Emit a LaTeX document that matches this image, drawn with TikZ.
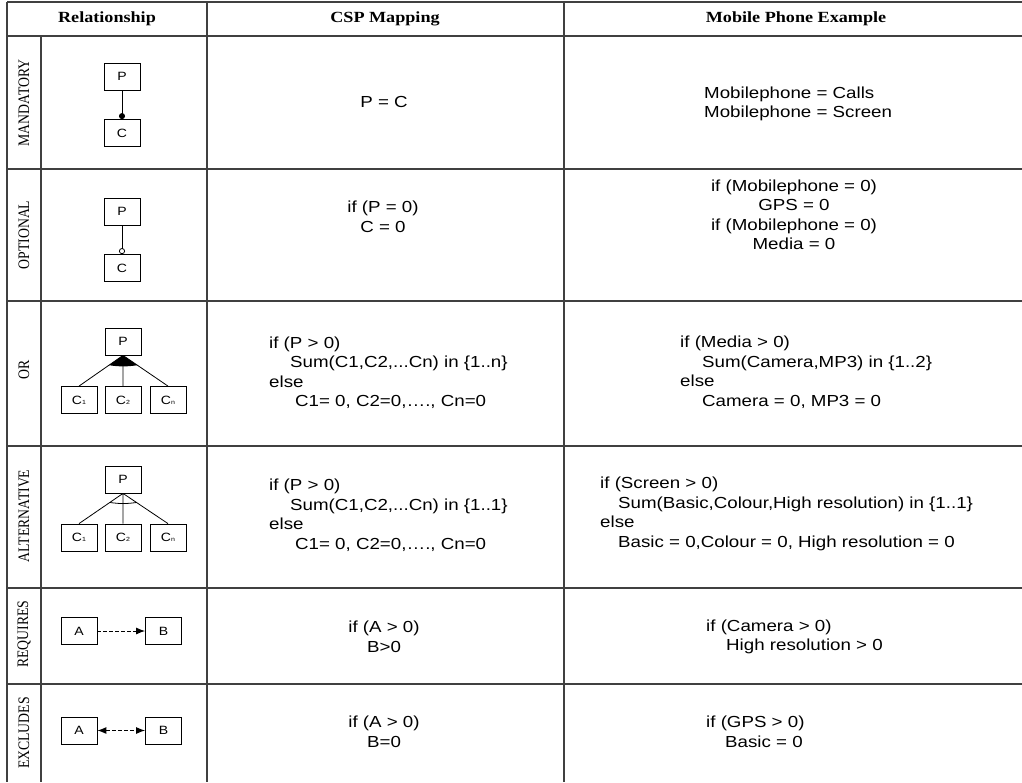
\documentclass[tikz,border=0pt]{standalone}
\usepackage{fontspec}
\setmainfont{Liberation Sans}[FakeStretch=1.17]
\newfontfamily\headfont{Liberation Serif}[FakeStretch=1.17]
\newfontfamily\sidefont{Liberation Serif}[FakeStretch=0.86]
\usetikzlibrary{arrows.meta,calc}
\newcommand{\csub}[1]{{\fontsize{6}{6}\selectfont #1}}

\begin{document}
\begin{tikzpicture}[x=1pt,y=-1pt,
  grid/.style={line width=1.1pt,black!75},
  head/.style={font=\headfont\bfseries\fontsize{15.5}{18}\selectfont},
  side/.style={rotate=90,font=\sidefont\fontsize{16}{18}\selectfont},
  txt/.style={font=\fontsize{16}{19.5}\selectfont,inner sep=0pt},
  feat/.style={draw,line width=0.8pt,minimum width=36pt,minimum height=27pt,inner sep=0pt,font=\fontsize{12}{14}\selectfont},
  link/.style={line width=0.8pt}]
\useasboundingbox (0,0) rectangle (1022,782);
% table
\draw[grid](7,2)--(1022,2)(7,36)--(1022,36);
\foreach \y in {169,301,446,588,684} \draw[grid](7,\y)--(1022,\y);
\draw[grid](7,2)--(7,782)(41,36)--(41,782)(207,2)--(207,782)(564,2)--(564,782);
\node (hrel) at (107,19) [head]{Relationship};
\node (hcsp) at (385,19) [head]{CSP Mapping};
\node (hmob) at (796,19) [head]{Mobile Phone Example};
\node (lman) at (24,103) [side]{MANDATORY};
\node (lopt) at (24,235) [side]{OPTIONAL};
\node (lor) at (24,370) [side]{OR};
\node (lalt) at (24,516) [side]{ALTERNATIVE};
\node (lreq) at (24,634) [side]{REQUIRES};
\node (lexc) at (24,733) [side]{EXCLUDES};
% mandatory
\node (mp) at (122,76.5) [feat]{P};
\node (mc) at (122,133) [feat]{C};
\draw[link,-{Circle[length=6pt]}](mp)--(mc);
\node (mcsp) at (384,101.5) [txt]{P = C};
\node (mmob) at (704,104) [txt,anchor=west,align=left]{Mobilephone = Calls\\Mobilephone = Screen};
% optional
\node (op) at (122,211.5) [feat]{P};
\node (oc) at (122,268) [feat]{C};
\draw[link,-{Circle[open,length=6pt]}](op)--(oc);
\node (ocsp) at (383,217) [txt,align=center]{if (P = 0)\\C = 0};
\node (omob) at (794,215) [txt,align=center]{if (Mobilephone = 0)\\GPS = 0\\if (Mobilephone = 0)\\Media = 0};
% or
\node (rp) at (123,341.5) [feat]{P};
\node (rc1) at (79,400) [feat]{C\csub{1}};
\node (rc2) at (123,400) [feat]{C\csub{2}};
\node (rcn) at (168,400) [feat]{C\csub{n}};
\draw[link](rp.south)--(rc1.north)(rp.south)--(rc2.north)(rp.south)--(rcn.north);
\coordinate (rl) at ($(rp.south)!0.32!(rc1.north)$);
\coordinate (rr) at ($(rp.south)!0.32!(rcn.north)$);
\fill (rp.south)--(rl) to[bend right=8] (rr)--cycle;
\node (rcsp) at (269,372.5) [txt,anchor=west,align=left]{if (P > 0)\\\hspace*{21pt}Sum(C1,C2,...Cn) in \{1..n\}\\else\\\hspace*{26pt}C1= 0, C2=0,…., Cn=0};
\node (rmob) at (680,372) [txt,anchor=west,align=left]{if (Media > 0)\\\hspace*{22pt}Sum(Camera,MP3) in \{1..2\}\\else\\\hspace*{22pt}Camera = 0, MP3 = 0};
% alternative
\node (ap) at (123,479.5) [feat]{P};
\node (ac1) at (79,537.5) [feat]{C\csub{1}};
\node (ac2) at (123,537.5) [feat]{C\csub{2}};
\node (acn) at (168,537.5) [feat]{C\csub{n}};
\draw[link](ap.south)--(ac1.north)(ap.south)--(ac2.north)(ap.south)--(acn.north);
\coordinate (al) at ($(ap.south)!0.3!(ac1.north)$);
\coordinate (ar) at ($(ap.south)!0.3!(acn.north)$);
\draw[link](al) to[bend right=8] (ar);
\node (acsp) at (269,515) [txt,anchor=west,align=left]{if (P > 0)\\\hspace*{21pt}Sum(C1,C2,...Cn) in \{1..1\}\\else\\\hspace*{26pt}C1= 0, C2=0,…., Cn=0};
\node (amob) at (600,514) [txt,anchor=west,align=left]{if (Screen > 0)\\\hspace*{18pt}Sum(Basic,Colour,High resolution) in \{1..1\}\\else\\\hspace*{18pt}Basic = 0,Colour = 0, High resolution = 0};
% requires
\node (qa) at (79,631) [feat]{A};
\node (qb) at (163.5,631) [feat]{B};
\draw[link,line width=1pt,dash pattern=on 4pt off 2pt,-{Latex[length=9pt,width=7pt]}](qa)--(qb);
\node (qcsp) at (384,637) [txt,align=center]{if (A > 0)\\B>0};
\node (qmob) at (706,637) [txt,anchor=west,align=left]{if (Camera > 0)\\\hspace*{20pt}High resolution > 0};
% excludes
\node (xa) at (79,730.5) [feat]{A};
\node (xb) at (163.5,730.5) [feat]{B};
\draw[link,line width=1pt,dash pattern=on 4pt off 2pt,{Latex[length=9pt,width=7pt]}-{Latex[length=9pt,width=7pt]}](xa)--(xb);
\node (xcsp) at (384,732) [txt,align=center]{if (A > 0)\\B=0};
\node (xmob) at (706,732) [txt,anchor=west,align=left]{if (GPS > 0)\\\hspace*{19pt}Basic = 0};
\end{tikzpicture}
\end{document}
